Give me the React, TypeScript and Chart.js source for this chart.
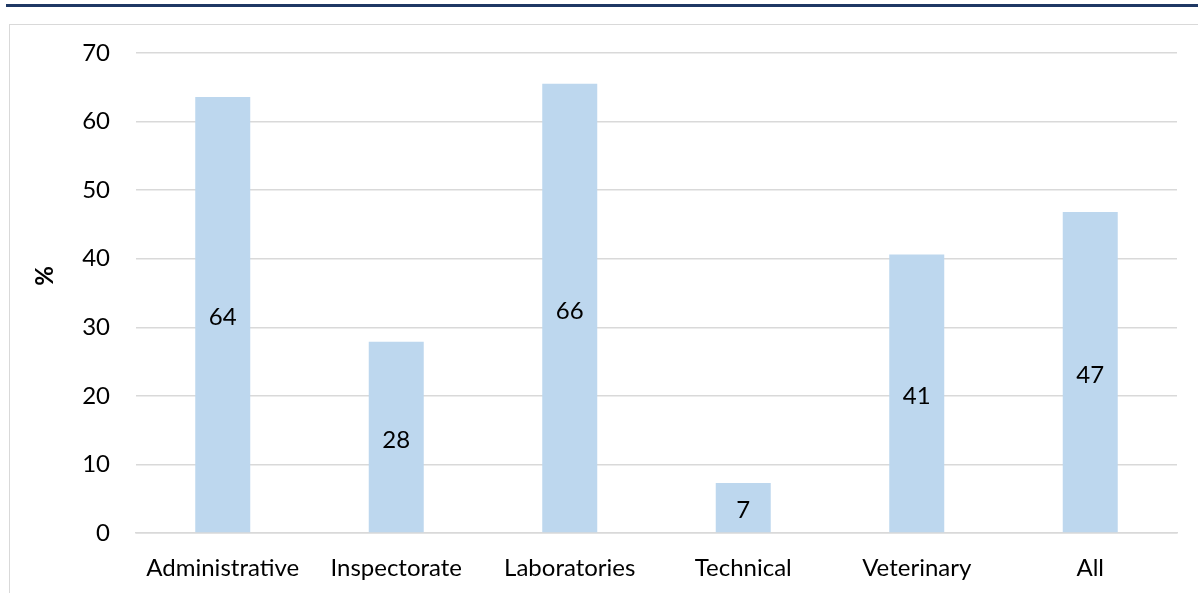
import React, { useEffect, useRef } from "react";
import { Chart, registerables } from "chart.js";

Chart.register(...registerables);

const categories = ["Administrative", "Inspectorate", "Laboratories", "Technical", "Veterinary", "All"];
const values = [63.6, 27.9, 65.5, 7.3, 40.6, 46.8];
const valueLabels = ["64", "28", "66", "7", "41", "47"];
const yTickMax = 70;
const yTickStep = 10;
const yAxisTitle = "%";

const FONT = "Lato, 'Open Sans', sans-serif";

const centerLabels = {
  id: "centerLabels",
  afterDatasetsDraw(chart: any) {
    const ctx = chart.ctx;
    const meta = chart.getDatasetMeta(0);
    ctx.save();
    ctx.font = `24px ${FONT}`;
    ctx.fillStyle = "#000";
    ctx.textAlign = "center";
    ctx.textBaseline = "middle";
    meta.data.forEach((bar: any, i: number) => {
      const { x, y, base } = bar.getProps(["x", "y", "base"], true);
      ctx.fillText(valueLabels[i], x, (y + base) / 2 + 3);
    });
    ctx.restore();
  },
};

const axisTitle = {
  id: "axisTitle",
  afterDraw(chart: any) {
    const ctx = chart.ctx;
    ctx.save();
    ctx.translate(45, 276);
    ctx.rotate(-Math.PI / 2);
    ctx.font = `bold 24px ${FONT}`;
    ctx.fillStyle = "#000";
    ctx.textAlign = "center";
    ctx.textBaseline = "middle";
    ctx.fillText(yAxisTitle, 0, 0);
    ctx.restore();
  },
};

export default function App() {
  const ref = useRef<HTMLCanvasElement | null>(null);
  useEffect(() => {
    document.body.style.margin = "0";
    const canvas = ref.current!;
    const chart = new Chart(canvas, {
      type: "bar",
      data: {
        labels: categories,
        datasets: [
          {
            data: values,
            backgroundColor: "#bdd7ee",
            borderWidth: 0,
            categoryPercentage: 1,
            barPercentage: 0.317,
          },
        ],
      },
      options: {
        responsive: false,
        animation: false,
        layout: { padding: { left: 0, right: 21, top: 53, bottom: 0 } },
        plugins: { legend: { display: false }, tooltip: { enabled: false } },
        scales: {
          x: {
            grid: { display: false, drawTicks: false },
            border: { display: true, color: "#d9d9d9", width: 1.5 },
            ticks: { color: "#000", font: { family: FONT, size: 24 }, padding: 21, maxRotation: 0, autoSkip: false },
            afterFit: (s: any) => {
              s.height = 593 - 533;
            },
          },
          y: {
            min: 0,
            max: yTickMax,
            ticks: { stepSize: yTickStep, color: "#000", font: { family: FONT, size: 24 }, padding: 26 },
            grid: { color: "#d9d9d9", lineWidth: 1.5, drawTicks: false },
            border: { display: false },
            afterFit: (s: any) => {
              s.width = 136;
            },
          },
        },
      },
      plugins: [centerLabels, axisTitle],
    });
    return () => chart.destroy();
  }, []);

  return (
    <div style={{ position: "relative", width: 1198, height: 593, background: "#fff", overflow: "hidden" }}>
      <div style={{ position: "absolute", left: 6, top: 4, width: 1192, height: 3, background: "#1f3864" }} />
      <div
        style={{
          position: "absolute",
          left: 9,
          top: 24,
          width: 1200,
          height: 600,
          borderTop: "1.5px solid #d9d9d9",
          borderLeft: "1.5px solid #d9d9d9",
        }}
      />
      <canvas ref={ref} width={1198} height={593} style={{ position: "absolute", left: 0, top: 0 }} />
    </div>
  );
}
